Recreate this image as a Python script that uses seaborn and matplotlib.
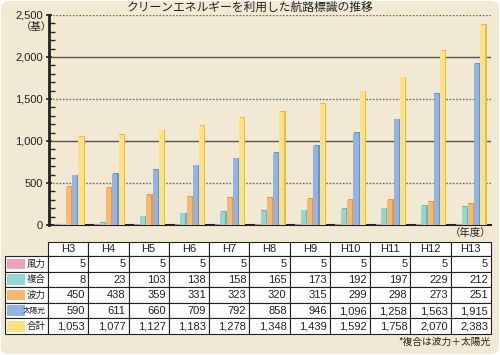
import matplotlib
matplotlib.use("Agg")
import matplotlib.pyplot as plt
from matplotlib.patches import FancyBboxPatch, Rectangle
import seaborn as sns
import pandas as pd
import numpy as np

years = ["H3", "H4", "H5", "H6", "H7", "H8", "H9", "H10", "H11", "H12", "H13"]
series_names = ["風力", "複合", "波力", "太陽光", "合計"]
wind = [5, 5, 5, 5, 5, 5, 5, 5, 5, 5, 5]
hybrid = [8, 23, 103, 138, 158, 165, 173, 192, 197, 229, 212]
wave = [450, 438, 359, 331, 323, 320, 315, 299, 298, 273, 251]
solar = [590, 611, 660, 709, 792, 858, 946, 1096, 1258, 1563, 1915]
total = [1053, 1077, 1127, 1183, 1278, 1348, 1439, 1592, 1758, 2070, 2383]
colors = ["#eea3b4", "#94d6d4", "#f9b86e", "#92b3e3", "#ffe17f"]
edge_colors = ["#c98898", "#6fb3b2", "#d99a52", "#6b90c8", "#dcbc5c"]
yticks = [0, 500, 1000, 1500, 2000, 2500]

sns.set_theme(style="white")
plt.rcParams["font.family"] = ["Noto Sans CJK JP", "DejaVu Sans"]

values = [wind, hybrid, wave, solar, total]
df = pd.DataFrame({
    "year": np.repeat([years], 5, axis=0).ravel(),
    "series": np.repeat(series_names, len(years)),
    "value": np.concatenate(values),
})

W, H = 500, 355
fig = plt.figure(figsize=(5, 3.55), dpi=100)
fig.patch.set_facecolor("white")
bg = FancyBboxPatch((1 / W, 1 / H), 498 / W, 353 / H,
                    boxstyle="round,pad=0,rounding_size=0.018",
                    transform=fig.transFigure, facecolor="#f1e9d4",
                    edgecolor="none", zorder=-5)
fig.patches.append(bg)

ax = fig.add_axes([49 / W, (H - 225) / H, (491 - 49) / W, (225 - 15) / H])
ax.set_facecolor("none")
sns.barplot(data=df, x="year", y="value", hue="series", order=years,
            hue_order=series_names, palette=colors, width=0.78,
            gap=0.0, ax=ax, legend=False, saturation=1, zorder=3)

# 3D-ish shading on bars
n = len(years)
for i, p in enumerate(list(ax.patches[: 5 * n])):
    s = i // n
    p.set_edgecolor("none")
    x, w, h = p.get_x(), p.get_width(), p.get_height()
    ax.add_patch(Rectangle((x + w * 0.8, 0), w * 0.2, h,
                           facecolor=edge_colors[s], edgecolor="none", zorder=4))
    ax.add_patch(Rectangle((x + w * 0.1, h), w * 0.9, 9,
                           facecolor=edge_colors[s], edgecolor="none", zorder=4))

ax.set_xlim(-0.5, n - 0.5)
ax.set_ylim(0, 2500)
ax.set_xlabel("")
ax.set_ylabel("")
ax.set_xticks([])
ax.set_yticks(yticks)
ax.set_yticklabels([f"{v:,}" for v in yticks], fontsize=8, color="#222222",
                   family=["Liberation Sans", "DejaVu Sans"])
ax.set_yticks(np.arange(0, 2501, 100), minor=True)
ax.tick_params(axis="y", which="major", direction="inout", length=5, width=1.2,
               color="#222222", pad=2, left=True)
ax.tick_params(axis="y", which="minor", direction="in", length=4, width=1,
               color="#222222", left=True)
for v in yticks[1:]:
    if v % 1000 == 0:
        ax.axhline(v, color="#555548", lw=1.0, zorder=1)
    else:
        ax.axhline(v, color="#6a6a60", lw=1.0, ls=(0, (1.2, 1.2)), zorder=1)
for side in ["top", "right"]:
    ax.spines[side].set_visible(False)
ax.spines["left"].set_color("#222222")
ax.spines["left"].set_linewidth(2)
ax.spines["bottom"].set_color("#222222")
ax.spines["bottom"].set_linewidth(1.5)

fig.text(250 / W, 1 - 7 / H, "クリーンエネルギーを利用した航路標識の推移",
         ha="center", va="center", fontsize=8.5, color="#222222")
fig.text(36 / W, 1 - 27 / H, "（基）", ha="center", va="center",
         fontsize=7.5, color="#222222")
fig.text(491 / W, 1 - 233 / H, "（年度）", ha="right", va="center",
         fontsize=7.5, color="#222222")
fig.text(491 / W, 1 - 342 / H, "*複合は波力＋太陽光", ha="right", va="center",
         fontsize=7, color="#222222")

# table
tax = fig.add_axes([0, 0, 1, 1])
tax.set_xlim(0, W)
tax.set_ylim(H, 0)
tax.axis("off")
tax.set_facecolor("none")
x0, x1, x_end = 5, 48, 491
y_top, y_head = 242, 256
row_h = (334 - y_head) / 5
col_w = (x_end - x1) / n
num_font = ["Liberation Sans", "DejaVu Sans"]
for j, yr in enumerate(years):
    cx = x1 + j * col_w
    tax.add_patch(Rectangle((cx, y_top), col_w, y_head - y_top, facecolor="white",
                            edgecolor="#222222", lw=0.8))
    tax.text(cx + col_w / 2, (y_top + y_head) / 2 + 0.5, yr, ha="center",
             va="center", fontsize=8, family=num_font, color="#222222")
for r in range(5):
    ry = y_head + r * row_h
    tax.add_patch(Rectangle((x0, ry), x1 - x0, row_h, facecolor="white",
                            edgecolor="#222222", lw=0.8))
    tax.add_patch(Rectangle((x0 + 2, ry + 2.5), 18, row_h - 5,
                            facecolor=colors[r], edgecolor="none"))
    tax.text(x1 - 2, ry + row_h / 2 + 0.5, series_names[r], ha="right",
             va="center", fontsize=6.8 if r != 3 else 5.5, color="#222222")
    for j in range(n):
        cx = x1 + j * col_w
        tax.add_patch(Rectangle((cx, ry), col_w, row_h, facecolor="white",
                                edgecolor="#222222", lw=0.8))
        tax.text(cx + col_w - 3, ry + row_h / 2 + 0.5, f"{values[r][j]:,}",
                 ha="right", va="center", fontsize=8, family=num_font,
                 color="#222222")

fig.savefig("out.png", dpi=100, facecolor=fig.get_facecolor())
